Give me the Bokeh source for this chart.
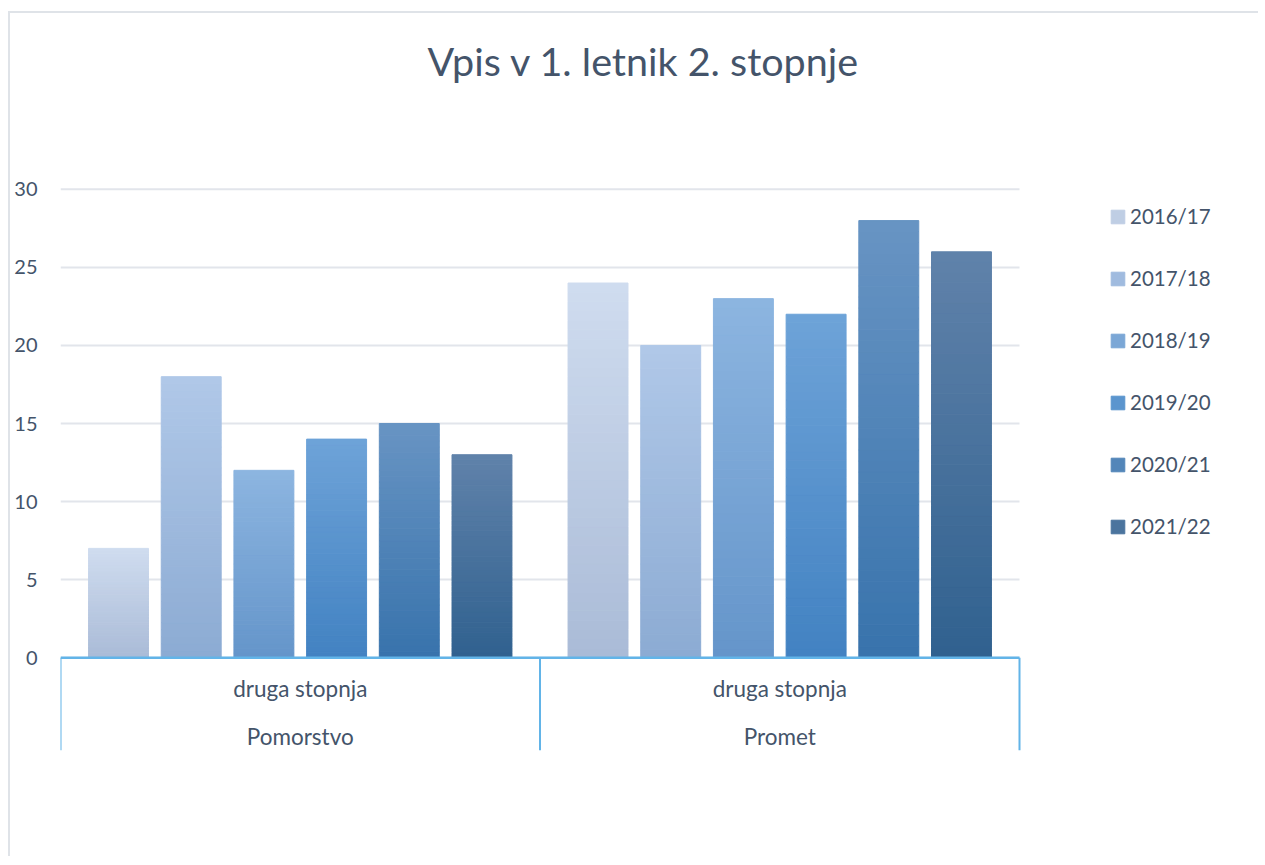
from bokeh.plotting import figure
from bokeh.models import Range1d, FixedTicker, Legend, LegendItem, ColumnDataSource
from bokeh.core.properties import value
from bokeh.embed import file_html
from bokeh.resources import INLINE

# ---------------- data ----------------
categories = ["Pomorstvo", "Promet"]
subcategory = "druga stopnja"
series = ["2016/17", "2017/18", "2018/19", "2019/20", "2020/21", "2021/22"]
pomorstvo = [7, 18, 12, 14, 15, 13]
promet = [24, 20, 23, 22, 28, 26]
y_ticks = [0, 5, 10, 15, 20, 25, 30]
title_text = "Vpis v 1. letnik 2. stopnje"

# ---------------- style ----------------
top_colors = ["#cfdcef", "#b0c8e8", "#8db5e0", "#6ea3d8", "#6894c3", "#6082aa"]
bottom_colors = ["#aabbd7", "#8cabd3", "#6495ca", "#4282c2", "#3873ac", "#30618f"]
text_color = "#44546a"
FONT = "Lato"

def hex2rgb(h):
    h = h.lstrip("#")
    return tuple(int(h[i:i + 2], 16) for i in (0, 2, 4))

def mix(c0, c1, t):
    a, b = hex2rgb(c0), hex2rgb(c1)
    return "#%02x%02x%02x" % tuple(round(a[k] + (b[k] - a[k]) * t) for k in range(3))

p = figure(width=1250, height=845, output_backend="svg", toolbar_location=None,
           x_range=Range1d(0, 2.5026), y_range=Range1d(-5.949, 35.437),
           x_axis_location=None,
           min_border_left=50, min_border_right=0, min_border_top=90, min_border_bottom=108)
p.margin = (11, 0, 0, 8)
p.styles = {"border-left": "2px solid #dfe3e8", "border-top": "2px solid #dfe3e8"}
p.outline_line_color = None
p.xgrid.visible = False
p.ygrid.visible = False
p.background_fill_color = "white"
p.border_fill_color = "white"

# title
p.title.text = title_text
p.title.text_font = FONT
p.title.text_font_size = "39.5px"
p.title.text_font_style = "normal"
p.title.text_color = text_color
p.title.align = "left"
p.title.offset = 367
p.title.standoff = 42

# y axis
yax = p.yaxis[0]
yax.ticker = FixedTicker(ticks=y_ticks)
yax.axis_line_color = None
yax.major_tick_line_color = None
yax.minor_tick_line_color = None
yax.major_tick_out = 0
yax.major_tick_in = 0
yax.major_label_standoff = 23
yax.major_label_text_font = FONT
yax.major_label_text_font_size = "20px"
yax.major_label_text_color = text_color

# grid lines (only across the category area)
n_cat = len(categories)
p.segment(x0=[0] * len(y_ticks), x1=[n_cat] * len(y_ticks), y0=y_ticks, y1=y_ticks,
          line_color="#e2e5eb", line_width=2)

# bars with vertical gradient
values = [pomorstvo, promet]
n_ser = len(series)
step = 0.1516
bar_w = 0.125
N = 40
legend_items = []
for s in range(n_ser):
    xs, bots, tops, cols = [], [], [], []
    for c in range(n_cat):
        v = values[c][s]
        xc = c + 0.5 + (s - (n_ser - 1) / 2) * step
        for i in range(N):
            xs.append(xc)
            bots.append(v * i / N)
            tops.append(v * (i + 1) / N)
            cols.append(mix(bottom_colors[s], top_colors[s], (i + 0.5) / N))
    src = ColumnDataSource(dict(x=xs, bottom=bots, top=tops, color=cols))
    r = p.vbar(x="x", bottom="bottom", top="top", width=bar_w, source=src,
               fill_color="color", line_color="color", line_width=1)
    legend_items.append(LegendItem(label=series[s], renderers=[r], index=int(N * 0.55)))

# category axis drawn in data space
p.segment(x0=[0], x1=[n_cat], y0=[0], y1=[0], line_color="#62b4e8", line_width=2.5)
p.segment(x0=list(range(n_cat + 1)), x1=list(range(n_cat + 1)),
          y0=[0] * (n_cat + 1), y1=[-5.949] * (n_cat + 1),
          line_color="#62b4e8", line_width=2)
cx = [c + 0.5 for c in range(n_cat)]
p.text(x=cx, y=[-1.96] * n_cat, text=[subcategory] * n_cat,
       text_font=value(FONT), text_font_size="22.5px", text_color=text_color,
       text_align="center", text_baseline="middle")
p.text(x=cx, y=[-5.06] * n_cat, text=categories,
       text_font=value(FONT), text_font_size="22.5px", text_color=text_color,
       text_align="center", text_baseline="middle")

legend = Legend(items=legend_items, location=(1049, 212), orientation="vertical",
                glyph_width=17, glyph_height=17, label_height=24, spacing=38,
                padding=0, margin=0, border_line_color=None, background_fill_alpha=0,
                label_text_font=FONT, label_text_font_size="20.5px",
                label_text_color=text_color, label_standoff=4)
p.add_layout(legend)

open("out.html", "w").write(file_html(p, INLINE))
